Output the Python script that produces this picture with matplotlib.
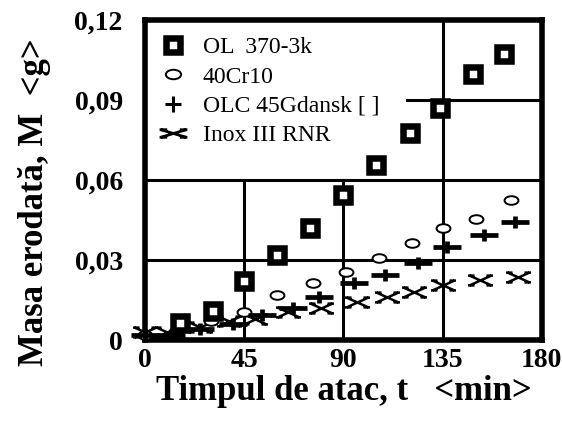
import matplotlib
matplotlib.use("Agg")
import matplotlib.pyplot as plt
from matplotlib.path import Path
from matplotlib.lines import Line2D
import numpy as np

# ---- data ----
t_ol = [16, 31, 45, 60, 75, 90, 105, 120, 134, 149, 163]
m_ol = [0.0065, 0.011, 0.022, 0.032, 0.042, 0.0544, 0.0656, 0.0777, 0.0869, 0.0998, 0.1075]

t_cr = [0, 15, 30, 45, 60, 76, 91, 106, 121, 135, 150, 166]
m_cr = [0.002, 0.004, 0.007, 0.0106, 0.0169, 0.0213, 0.0256, 0.0306, 0.0363, 0.0419, 0.0456, 0.0525]

t_olc = [0, 12, 25, 40, 53, 67, 79, 95, 109, 124, 137, 154, 168]
m_olc = [0.002, 0.002, 0.004, 0.006, 0.0094, 0.0119, 0.0162, 0.0213, 0.0244, 0.0288, 0.035, 0.0394, 0.0444]

t_inox = [0, 10, 25, 38, 50, 65, 80, 96, 110, 122, 135, 152, 169]
m_inox = [0.003, 0.003, 0.005, 0.007, 0.008, 0.0105, 0.0119, 0.0144, 0.0162, 0.0181, 0.0206, 0.0225, 0.0237]

labels = ["OL  370-3k", "40Cr10", "OLC 45Gdansk [ ]", "Inox III RNR"]
xticks = [0, 45, 90, 135, 180]
yticks = [0, 0.03, 0.06, 0.09, 0.12]
ytick_labels = ["0", "0,03", "0,06", "0,09", "0,12"]

# ---- custom markers ----
circ = Path.unit_circle()
ellipse = Path(circ.vertices * np.array([1.0, 0.62]), circ.codes)
plus_wide = Path([(-1, 0), (1, 0), (0, -0.45), (0, 0.45)],
                 [Path.MOVETO, Path.LINETO, Path.MOVETO, Path.LINETO])
plus_sym = Path([(-1, 0), (1, 0), (0, -1), (0, 1)],
                [Path.MOVETO, Path.LINETO, Path.MOVETO, Path.LINETO])
xm = Path([(-1, 0.45), (1, -0.45), (-1, -0.45), (1, 0.45),
           (-1.15, 0.45), (-0.55, 0.45), (0.55, 0.45), (1.15, 0.45),
           (-1.15, -0.45), (-0.55, -0.45), (0.55, -0.45), (1.15, -0.45)],
          [Path.MOVETO, Path.LINETO, Path.MOVETO, Path.LINETO] * 3)
xm_leg = Path([(-1, 0.3), (1, -0.3), (-1, -0.3), (1, 0.3),
               (-1.1, 0.3), (-0.5, 0.3), (0.5, 0.3), (1.1, 0.3),
               (-1.1, -0.3), (-0.5, -0.3), (0.5, -0.3), (1.1, -0.3)],
              [Path.MOVETO, Path.LINETO, Path.MOVETO, Path.LINETO] * 3)

serif = ["Liberation Serif", "DejaVu Serif"]
plt.rcParams["font.family"] = serif

fig = plt.figure(figsize=(5.62, 4.28), dpi=100)
ax = fig.add_axes([0.258, 0.2056, 0.706, 0.747])

ax.set_xlim(0, 180)
ax.set_ylim(0, 0.12)

# grid lines (partially absent in the legend area, as in original)
gl = dict(color="black", lw=2.2, zorder=1)
ax.axhline(0.03, **gl)
ax.axhline(0.06, **gl)
ax.axhline(0.09, xmin=0.66, xmax=1, **gl)
ax.axvline(45, ymax=0.5, **gl)
ax.axvline(90, ymax=0.5, **gl)
ax.axvline(135, **gl)

ax.plot(t_inox, m_inox, ls="none", marker=xm, ms=18, mfc="none", mec="black",
        mew=1.8, clip_on=False, zorder=3)
ax.plot(t_cr, m_cr, ls="none", marker=ellipse, ms=10, mfc="white", mec="black",
        mew=1.4, clip_on=False, zorder=4)
ax.plot(t_olc, m_olc, ls="none", marker=plus_wide, ms=20, mfc="none", mec="black",
        mew=3.4, clip_on=False, zorder=4)
ax.plot(t_ol, m_ol, ls="none", marker="s", ms=10.5, mfc="white", mec="black",
        mew=4.7, clip_on=False, zorder=5)

handles = [
    Line2D([], [], ls="none", marker="s", ms=10, mfc="white", mec="black", mew=4.7),
    Line2D([], [], ls="none", marker=ellipse, ms=11, mfc="white", mec="black", mew=1.4),
    Line2D([], [], ls="none", marker=plus_sym, ms=11, mfc="none", mec="black", mew=2.2),
    Line2D([], [], ls="none", marker=xm_leg, ms=20, mfc="none", mec="black", mew=2.0),
]
leg = ax.legend(handles, labels, loc="upper left", bbox_to_anchor=(0.003, 0.978),
                frameon=False, prop={"family": serif, "size": 17}, handlelength=1.5,
                handletextpad=0.5, labelspacing=0.33, borderaxespad=0.0)

for s in ax.spines.values():
    s.set_linewidth(4)

ax.set_xticks(xticks)
ax.set_xticklabels([str(v) for v in xticks])
ax.set_yticks(yticks)
ax.set_yticklabels(ytick_labels)
ax.tick_params(axis="both", length=0, labelsize=20)
ax.tick_params(axis="x", pad=6)
ax.tick_params(axis="y", pad=16)
for lab in ax.get_xticklabels() + ax.get_yticklabels():
    lab.set_fontweight("bold")

ax.set_xlabel("Timpul de atac, t   <min>", fontsize=25, fontweight="bold")
ax.set_ylabel("Masa erodată, M  <g>", fontsize=25, fontweight="bold")
ax.xaxis.set_label_coords(0.5, -0.11)
ax.yaxis.set_label_coords(-0.237, 0.43)

fig.savefig("out.png", dpi=100)
